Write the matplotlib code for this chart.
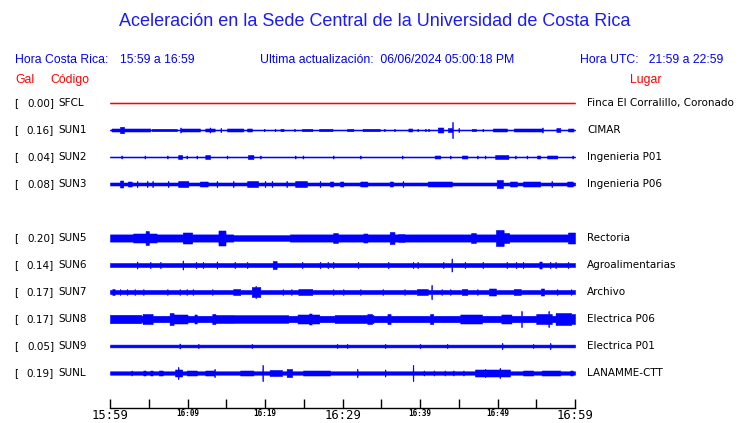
import numpy as np
import matplotlib
matplotlib.use("Agg")
import matplotlib.pyplot as plt

# ---------------- data ----------------
codes = ["SFCL", "SUN1", "SUN2", "SUN3", "SUN5", "SUN6", "SUN7", "SUN8", "SUN9", "SUNL"]
gal = [0.00, 0.16, 0.04, 0.08, 0.20, 0.14, 0.17, 0.17, 0.05, 0.19]
places = ["Finca El Corralillo, Coronado", "CIMAR", "Ingenieria P01", "Ingenieria P06",
          "Rectoria", "Agroalimentarias", "Archivo", "Electrica P06", "Electrica P01", "LANAMME-CTT"]
rows = [0, 1, 2, 3, 5, 6, 7, 8, 9, 10]
trace_colors = ["#ff0000"] + ["#0000ff"] * 9

tick_minutes = list(range(0, 61, 5))
tick_labels = ["15:59", "", "16:09", "", "16:19", "", "16:29", "", "16:39", "", "16:49", "", "16:59"]
big_labels = ["15:59", "16:29", "16:59"]

# background level (half amplitude) of each trace
base_sfcl = 0.5
base_sun1 = 0.5
base_sun2 = 0.5
base_sun3 = 1.5
base_sun5 = 2.8
base_sun6 = 2.0
base_sun7 = 2.0
base_sun8 = 3.2
base_sun9 = 1.4
base_sunl = 1.7

# bursts: (start minute, end minute, half amplitude)
bursts_sfcl = []
bursts_sun1 = [(0.2, 1.3, 1.5), (1.3, 1.8, 3.2), (1.8, 5.2, 1.5), (5.4, 8.6, 1.2), (9.2, 11.6, 1.5),
               (12.3, 13.5, 1.5), (15.1, 17.2, 1.5), (17.7, 18.3, 1.5), (22.0, 22.4, 1.2),
               (24.8, 26.1, 1.2), (27.0, 28.7, 1.2), (30.6, 31.4, 1.2), (32.6, 34.8, 1.2),
               (38.5, 39.0, 1.5), (42.3, 43.0, 2.5), (43.6, 44.2, 2.0), (46.7, 47.2, 1.2),
               (49.4, 51.2, 1.5), (52.1, 55.7, 1.5), (57.6, 58.1, 2.0), (59.1, 59.8, 1.5)]
bursts_sun2 = [(8.8, 9.3, 2.0), (12.3, 12.9, 2.0), (17.8, 18.5, 2.0), (41.9, 42.6, 1.5),
               (45.4, 46.1, 1.5), (49.7, 51.4, 2.0), (55.1, 55.5, 1.5), (56.4, 57.7, 1.5)]
bursts_sun3 = [(1.3, 1.7, 3.5), (2.3, 2.8, 2.5), (8.8, 10.1, 3.0), (11.6, 12.6, 2.5), (17.7, 19.1, 3.0),
               (23.9, 25.4, 3.0), (28.4, 28.8, 2.5), (29.7, 30.1, 2.5), (32.3, 33.2, 2.5),
               (36.1, 36.5, 2.5), (41.0, 44.1, 2.5), (49.9, 50.7, 4.0), (51.6, 52.5, 2.5),
               (53.3, 55.5, 2.5), (59.0, 59.7, 2.5)]
bursts_sun5 = [(0.0, 15.9, 3.6), (23.2, 60.0, 3.6), (3.0, 6.0, 4.5), (4.6, 5.0, 7.0), (9.4, 10.6, 5.5),
               (14.0, 14.9, 7.5), (28.8, 29.4, 5.0), (32.7, 33.2, 4.5), (36.1, 36.7, 6.0),
               (37.2, 38.0, 4.0), (46.6, 47.2, 5.0), (49.8, 50.8, 8.0), (50.8, 51.5, 5.0),
               (59.1, 60.0, 5.5)]
bursts_sun6 = [(21.0, 21.5, 4.0), (55.4, 55.7, 3.5)]
bursts_sun7 = [(0.3, 0.6, 3.0), (15.9, 16.8, 3.0), (18.3, 19.4, 5.0), (24.3, 26.1, 3.0),
               (39.6, 41.0, 3.0), (45.4, 46.1, 3.0), (48.9, 49.8, 3.5), (52.1, 53.0, 3.0),
               (55.6, 56.0, 3.5)]
bursts_sun8 = [(0.0, 4.0, 4.2), (4.2, 5.5, 5.0), (7.7, 8.2, 6.0), (8.2, 10.0, 4.5), (10.9, 11.2, 4.5),
               (13.2, 13.6, 5.0), (13.6, 16.0, 4.0), (16.0, 23.0, 3.8), (24.2, 27.0, 4.5),
               (25.7, 26.0, 5.5), (29.0, 34.0, 4.0), (33.2, 33.8, 5.0), (35.8, 36.2, 5.0),
               (41.3, 41.7, 5.0), (45.2, 48.0, 4.5), (50.5, 51.8, 4.5), (55.0, 57.0, 5.0),
               (57.5, 59.5, 6.0), (59.5, 60.0, 5.0)]
bursts_sun9 = []
bursts_sunl = [(4.3, 4.6, 2.5), (5.2, 5.5, 2.5), (6.3, 6.8, 2.5), (8.4, 9.3, 3.5), (9.9, 11.2, 2.5),
               (12.3, 13.5, 2.5), (16.8, 18.5, 2.5), (20.6, 22.2, 3.0), (22.8, 23.5, 4.0),
               (24.9, 28.4, 2.5), (47.1, 51.6, 3.5), (53.3, 54.6, 2.5), (55.7, 58.1, 2.5),
               (59.4, 59.7, 2.5)]

# isolated spikes: (minute, half amplitude)
spikes_sfcl = []
spikes_sun1 = [(9.1, 2.5), (12.9, 2.5), (14.3, 2.0), (19.9, 1.2), (21.3, 1.2), (23.8, 1.2), (35.4, 1.2),
               (36.7, 1.2), (39.7, 1.2), (40.7, 1.2), (41.1, 1.2), (44.2, 8.0), (45.0, 2.0), (48.1, 1.2),
               (55.8, 2.5)]
spikes_sun2 = [(1.5, 1.5), (4.5, 1.5), (7.4, 1.5), (9.9, 1.5), (11.2, 1.5), (15.1, 1.5), (19.4, 1.5),
               (23.9, 1.5), (24.9, 1.5), (28.8, 1.5), (32.3, 1.5), (37.7, 1.5), (43.9, 1.5), (47.4, 1.5),
               (48.4, 1.5), (52.3, 1.5), (53.8, 1.5), (59.7, 1.5)]
spikes_sun3 = [(3.5, 3.0), (4.8, 3.0), (5.5, 3.0), (7.5, 3.0), (13.8, 3.0), (15.9, 3.0), (20.0, 3.0),
               (20.9, 3.0), (22.8, 3.0), (27.1, 3.0), (37.8, 3.0), (57.0, 3.0)]
spikes_sun5 = []
spikes_sun6 = [(3.5, 3.5), (5.2, 3.0), (6.5, 3.0), (9.4, 4.5), (11.1, 3.0), (12.0, 3.0), (13.8, 3.5),
               (16.1, 3.0), (17.7, 3.0), (24.8, 3.0), (27.1, 3.0), (28.1, 3.0), (28.8, 3.0), (32.0, 3.0),
               (35.9, 3.0), (39.1, 3.0), (39.7, 3.0), (43.0, 3.0), (44.1, 6.5), (45.8, 3.0), (48.1, 3.0),
               (51.2, 3.0), (52.4, 3.0), (53.3, 3.0), (56.8, 3.0), (57.5, 3.0), (59.1, 3.0)]
spikes_sun7 = [(1.3, 2.8), (2.2, 2.8), (3.2, 2.8), (4.3, 2.8), (7.4, 2.8), (9.0, 2.8), (9.9, 2.8),
               (10.7, 2.8), (13.2, 2.8), (18.8, 6.0), (22.3, 2.8), (23.4, 2.8), (28.8, 2.8), (30.1, 2.8),
               (32.3, 2.8), (35.2, 2.8), (38.0, 2.8), (41.5, 7.0), (42.8, 2.8), (43.9, 2.8), (47.4, 2.8),
               (57.7, 2.8), (59.5, 2.8)]
spikes_sun8 = [(53.1, 8.0), (56.6, 8.0)]
spikes_sun9 = [(9.0, 2.5), (11.4, 2.0), (18.3, 2.0), (29.3, 2.0), (30.6, 2.0), (35.5, 2.0), (40.0, 2.0),
               (43.5, 2.0), (50.6, 3.0), (54.6, 2.0), (56.8, 3.0)]
spikes_sunl = [(2.8, 2.5), (8.8, 6.0), (13.5, 4.0), (19.7, 8.0), (31.9, 4.0), (35.5, 3.5), (39.1, 8.0),
               (40.5, 2.5), (41.8, 2.5), (43.2, 2.5), (44.3, 2.5), (45.6, 2.5), (48.4, 4.0), (50.3, 5.0)]

bases = [base_sfcl, base_sun1, base_sun2, base_sun3, base_sun5, base_sun6, base_sun7, base_sun8,
         base_sun9, base_sunl]
bursts = [bursts_sfcl, bursts_sun1, bursts_sun2, bursts_sun3, bursts_sun5, bursts_sun6, bursts_sun7,
          bursts_sun8, bursts_sun9, bursts_sunl]
spikes = [spikes_sfcl, spikes_sun1, spikes_sun2, spikes_sun3, spikes_sun5, spikes_sun6, spikes_sun7,
          spikes_sun8, spikes_sun9, spikes_sunl]

# ---------------- style ----------------
W, H = 740, 423
ROW_PX = 27.0
SPIKE_W = 0.09
BLUE = "#0000ff"
TITLE_BLUE = "#1a1aff"
RED = "#ff0000"


def fx(x):
    return x / W


def fy(y):
    return 1 - y / H


fig = plt.figure(figsize=(W / 100, H / 100), dpi=100)
fig.patch.set_facecolor("white")

ax_left, ax_right, ax_top, ax_bottom = 110, 575, 90, 408
ax = fig.add_axes([fx(ax_left), fy(ax_bottom), (ax_right - ax_left) / W, (ax_bottom - ax_top) / H])
first_row_px = 103
ax.set_xlim(0, 60)
ax.set_ylim((ax_bottom - first_row_px) / ROW_PX, (ax_top - first_row_px) / ROW_PX)

t = np.linspace(0, 60, 6001)
for r, b, bl, sp, c in zip(rows, bases, bursts, spikes, trace_colors):
    env = np.full_like(t, b)
    for t0, t1, a in bl:
        m = (t >= t0) & (t <= t1)
        env[m] = np.maximum(env[m], a)
    for ts, a in sp:
        m = (t >= ts - SPIKE_W / 2) & (t <= ts + SPIKE_W / 2)
        env[m] = np.maximum(env[m], a)
    e = env / ROW_PX
    ax.fill_between(t, r - e, r + e, color=c, lw=0.4, edgecolor=c)

for s in ["top", "left", "right"]:
    ax.spines[s].set_visible(False)
ax.spines["bottom"].set_linewidth(1.0)
ax.set_yticks([])
ax.set_xticks(tick_minutes)
ax.set_xticklabels(tick_labels)
ax.tick_params(axis="x", direction="in", length=6.5, width=1.0, pad=1.0)
for lab in ax.get_xticklabels():
    lab.set_fontfamily("DejaVu Sans Mono")
    if lab.get_text() in big_labels:
        lab.set_fontsize(8.8)
    else:
        lab.set_fontsize(5.5)
        lab.set_fontweight("bold")

# ---------------- texts ----------------
sans = "Liberation Sans"
hdr = 8.8
fig.text(fx(375), fy(22), "Aceleración en la Sede Central de la Universidad de Costa Rica",
         color=TITLE_BLUE, fontsize=13.0, family=sans, ha="center", va="center")
fig.text(fx(15), fy(60), "Hora Costa Rica:", color=BLUE, fontsize=hdr, family=sans, va="center")
fig.text(fx(120), fy(60), "15:59 a 16:59", color=BLUE, fontsize=hdr, family=sans, va="center")
fig.text(fx(260), fy(60), "Ultima actualización:  06/06/2024 05:00:18 PM", color=BLUE, fontsize=hdr,
         family=sans, va="center")
fig.text(fx(580), fy(60), "Hora UTC:   21:59 a 22:59", color=BLUE, fontsize=hdr, family=sans, va="center")
fig.text(fx(15), fy(80), "Gal", color=RED, fontsize=hdr, family=sans, va="center")
fig.text(fx(50), fy(80), "Código", color=RED, fontsize=hdr, family=sans, va="center")
fig.text(fx(630), fy(80), "Lugar", color=RED, fontsize=hdr, family=sans, va="center")

for r, g, code, place in zip(rows, gal, codes, places):
    y = fy(first_row_px + r * ROW_PX)
    fig.text(fx(14), y, "[", fontsize=7.5, family="DejaVu Sans", va="center")
    fig.text(fx(54), y, f"{g:.2f}]", fontsize=7.5, family="DejaVu Sans", va="center", ha="right")
    fig.text(fx(58), y, code, fontsize=7.5, family="DejaVu Sans", va="center")
    fig.text(fx(587), y, place, fontsize=7.5, family="DejaVu Sans", va="center")

fig.savefig("out.png", dpi=100)
